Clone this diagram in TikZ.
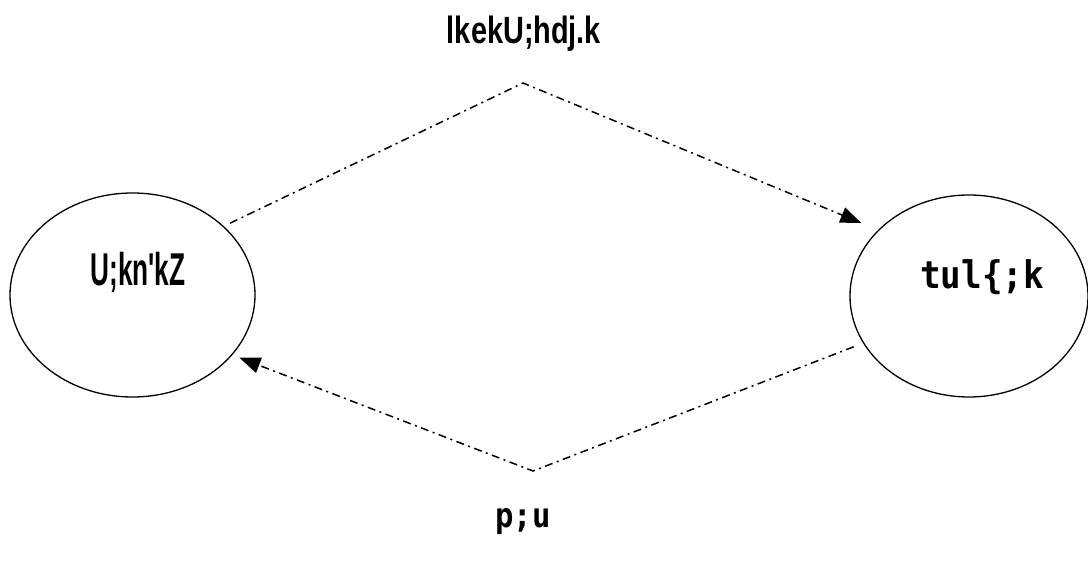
\documentclass[tikz,border=0pt]{standalone}
\usepackage{fontspec}
\setmainfont{Liberation Sans}
\newfontfamily\labelmono{DejaVu Sans Mono}
\usetikzlibrary{shapes.geometric,arrows.meta}

\tikzset{
  state/.style={ellipse, draw, line width=1.3pt, inner sep=0pt},
  narrowlabel/.style={font=\fontsize{38}{42}\selectfont\bfseries, inner sep=0pt},
  monolabel/.style={font=\fontsize{38}{42}\selectfont\labelmono\bfseries, inner sep=0pt},
  flow/.style={line width=1.5pt, dash pattern=on 8pt off 4.5pt on 2pt off 4.5pt,
               -{Triangle[length=21pt,width=16pt]}},
}

\begin{document}
\begin{tikzpicture}[x=1pt,y=-1pt]
  \useasboundingbox (0,0) rectangle (1088,561);

  % the two states
  \node[state, minimum width=245pt, minimum height=204pt] (L) at (132.5,295) {};
  \node[state, minimum width=238pt, minimum height=202pt] (R) at (969,296) {};

  \node[narrowlabel, font=\fontsize{46}{50}\selectfont\bfseries] (Ltext) at (138,272)
    {\scalebox{0.57}[1]{U;kn\textquotesingle kZ}};
  \node[monolabel] (Rtext) at (982,277) {\scalebox{0.9}[1]{tul\{;k}};

  % bend points of the two transitions
  \coordinate (topbend) at (523,83);
  \coordinate (botbend) at (533,471);

  \node[narrowlabel] (toptext) at (524,34) {\scalebox{0.76}[1]{lkekU;hdj.k}};
  \node[monolabel, font=\fontsize{34}{38}\selectfont\labelmono\bfseries] (bottext) at (523,522)
    {\scalebox{0.9}[1]{p;u}};

  % transitions
  \draw[flow, shorten <=7pt, shorten >=18pt] (L.37) -- (topbend) -- (R.144.7);
  \draw[flow, shorten <=10pt, shorten >=7.5pt] (R.204.5) -- (botbend) -- (L.-31.9);
\end{tikzpicture}
\end{document}
